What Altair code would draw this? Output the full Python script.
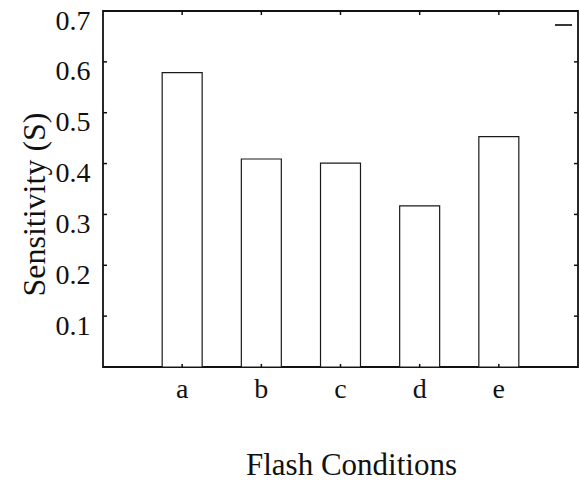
import altair as alt
import pandas as pd

conditions = ["a", "b", "c", "d", "e"]
sensitivity = [0.579, 0.409, 0.401, 0.317, 0.453]
y_ticks = [0.1, 0.2, 0.3, 0.4, 0.5, 0.6, 0.7]

bars_df = pd.DataFrame({"cond": conditions, "S": sensitivity})
ticks_df = pd.DataFrame({"t": y_ticks[:-1]})

W, H = 475, 356
FONT = "Liberation Serif"

xscale = alt.Scale(domain=conditions, paddingInner=0.495, paddingOuter=0.7475)
yscale = alt.Scale(domain=[0, 0.7], nice=False)

bars = alt.Chart(bars_df).mark_bar(
    fill="white", stroke="#1a1a1a", strokeWidth=1.2
).encode(
    x=alt.X("cond:N", scale=xscale, sort=conditions,
            axis=alt.Axis(title="Flash Conditions", labelAngle=0, ticks=False,
                          domain=False, labelFont=FONT, labelFontSize=28,
                          labelPadding=8, titleFont=FONT, titleFontSize=31,
                          titleX=248, titleY=98,
                          titleBaseline="middle", titleAlign="center")),
    y=alt.Y("S:Q", scale=yscale,
            axis=alt.Axis(title="Sensitivity (S)", values=y_ticks, format=".1f",
                          ticks=False, domain=False, grid=False,
                          labelFont=FONT, labelFontSize=28, labelPadding=13,
                          labelOffset=10, titleFont=FONT, titleFontSize=32,
                          titleX=-69, titleY=193,
                          titleBaseline="middle", titleAlign="center")),
)

left_ticks = alt.Chart(ticks_df).mark_rule(color="#111", strokeWidth=1.5).encode(
    y=alt.Y("t:Q", scale=yscale), x=alt.value(0), x2=alt.value(4)
)
right_ticks = alt.Chart(ticks_df).mark_rule(color="#111", strokeWidth=1.5).encode(
    y=alt.Y("t:Q", scale=yscale), x=alt.value(W - 4), x2=alt.value(W)
)
top_ticks = alt.Chart(bars_df).mark_rule(color="#111", strokeWidth=1.5).encode(
    x=alt.X("cond:N", scale=xscale, sort=conditions), y=alt.value(0), y2=alt.value(4)
)
bottom_ticks = alt.Chart(bars_df).mark_rule(color="#111", strokeWidth=1.5).encode(
    x=alt.X("cond:N", scale=xscale, sort=conditions), y=alt.value(H - 3), y2=alt.value(H)
)
legend_stub = alt.Chart(bars_df).mark_rule(color="#333", strokeWidth=1).encode(
    x=alt.value(W - 23), x2=alt.value(W - 6), y=alt.value(14)
)

chart = alt.layer(bars, left_ticks, right_ticks, top_ticks, bottom_ticks, legend_stub).properties(
    width=W, height=H,
    autosize=alt.AutoSizeParams(type="none"),
    padding={"left": 103, "top": 11, "right": 2, "bottom": 119},
    background="white",
).configure_view(
    stroke="#111", strokeWidth=1.8
).configure_axis(
    labelFont=FONT, titleFont=FONT, labelColor="#111", titleColor="#111",
    titleFontWeight="normal"
)

chart.save("out.html", embed_options={"renderer": "svg", "actions": False})
